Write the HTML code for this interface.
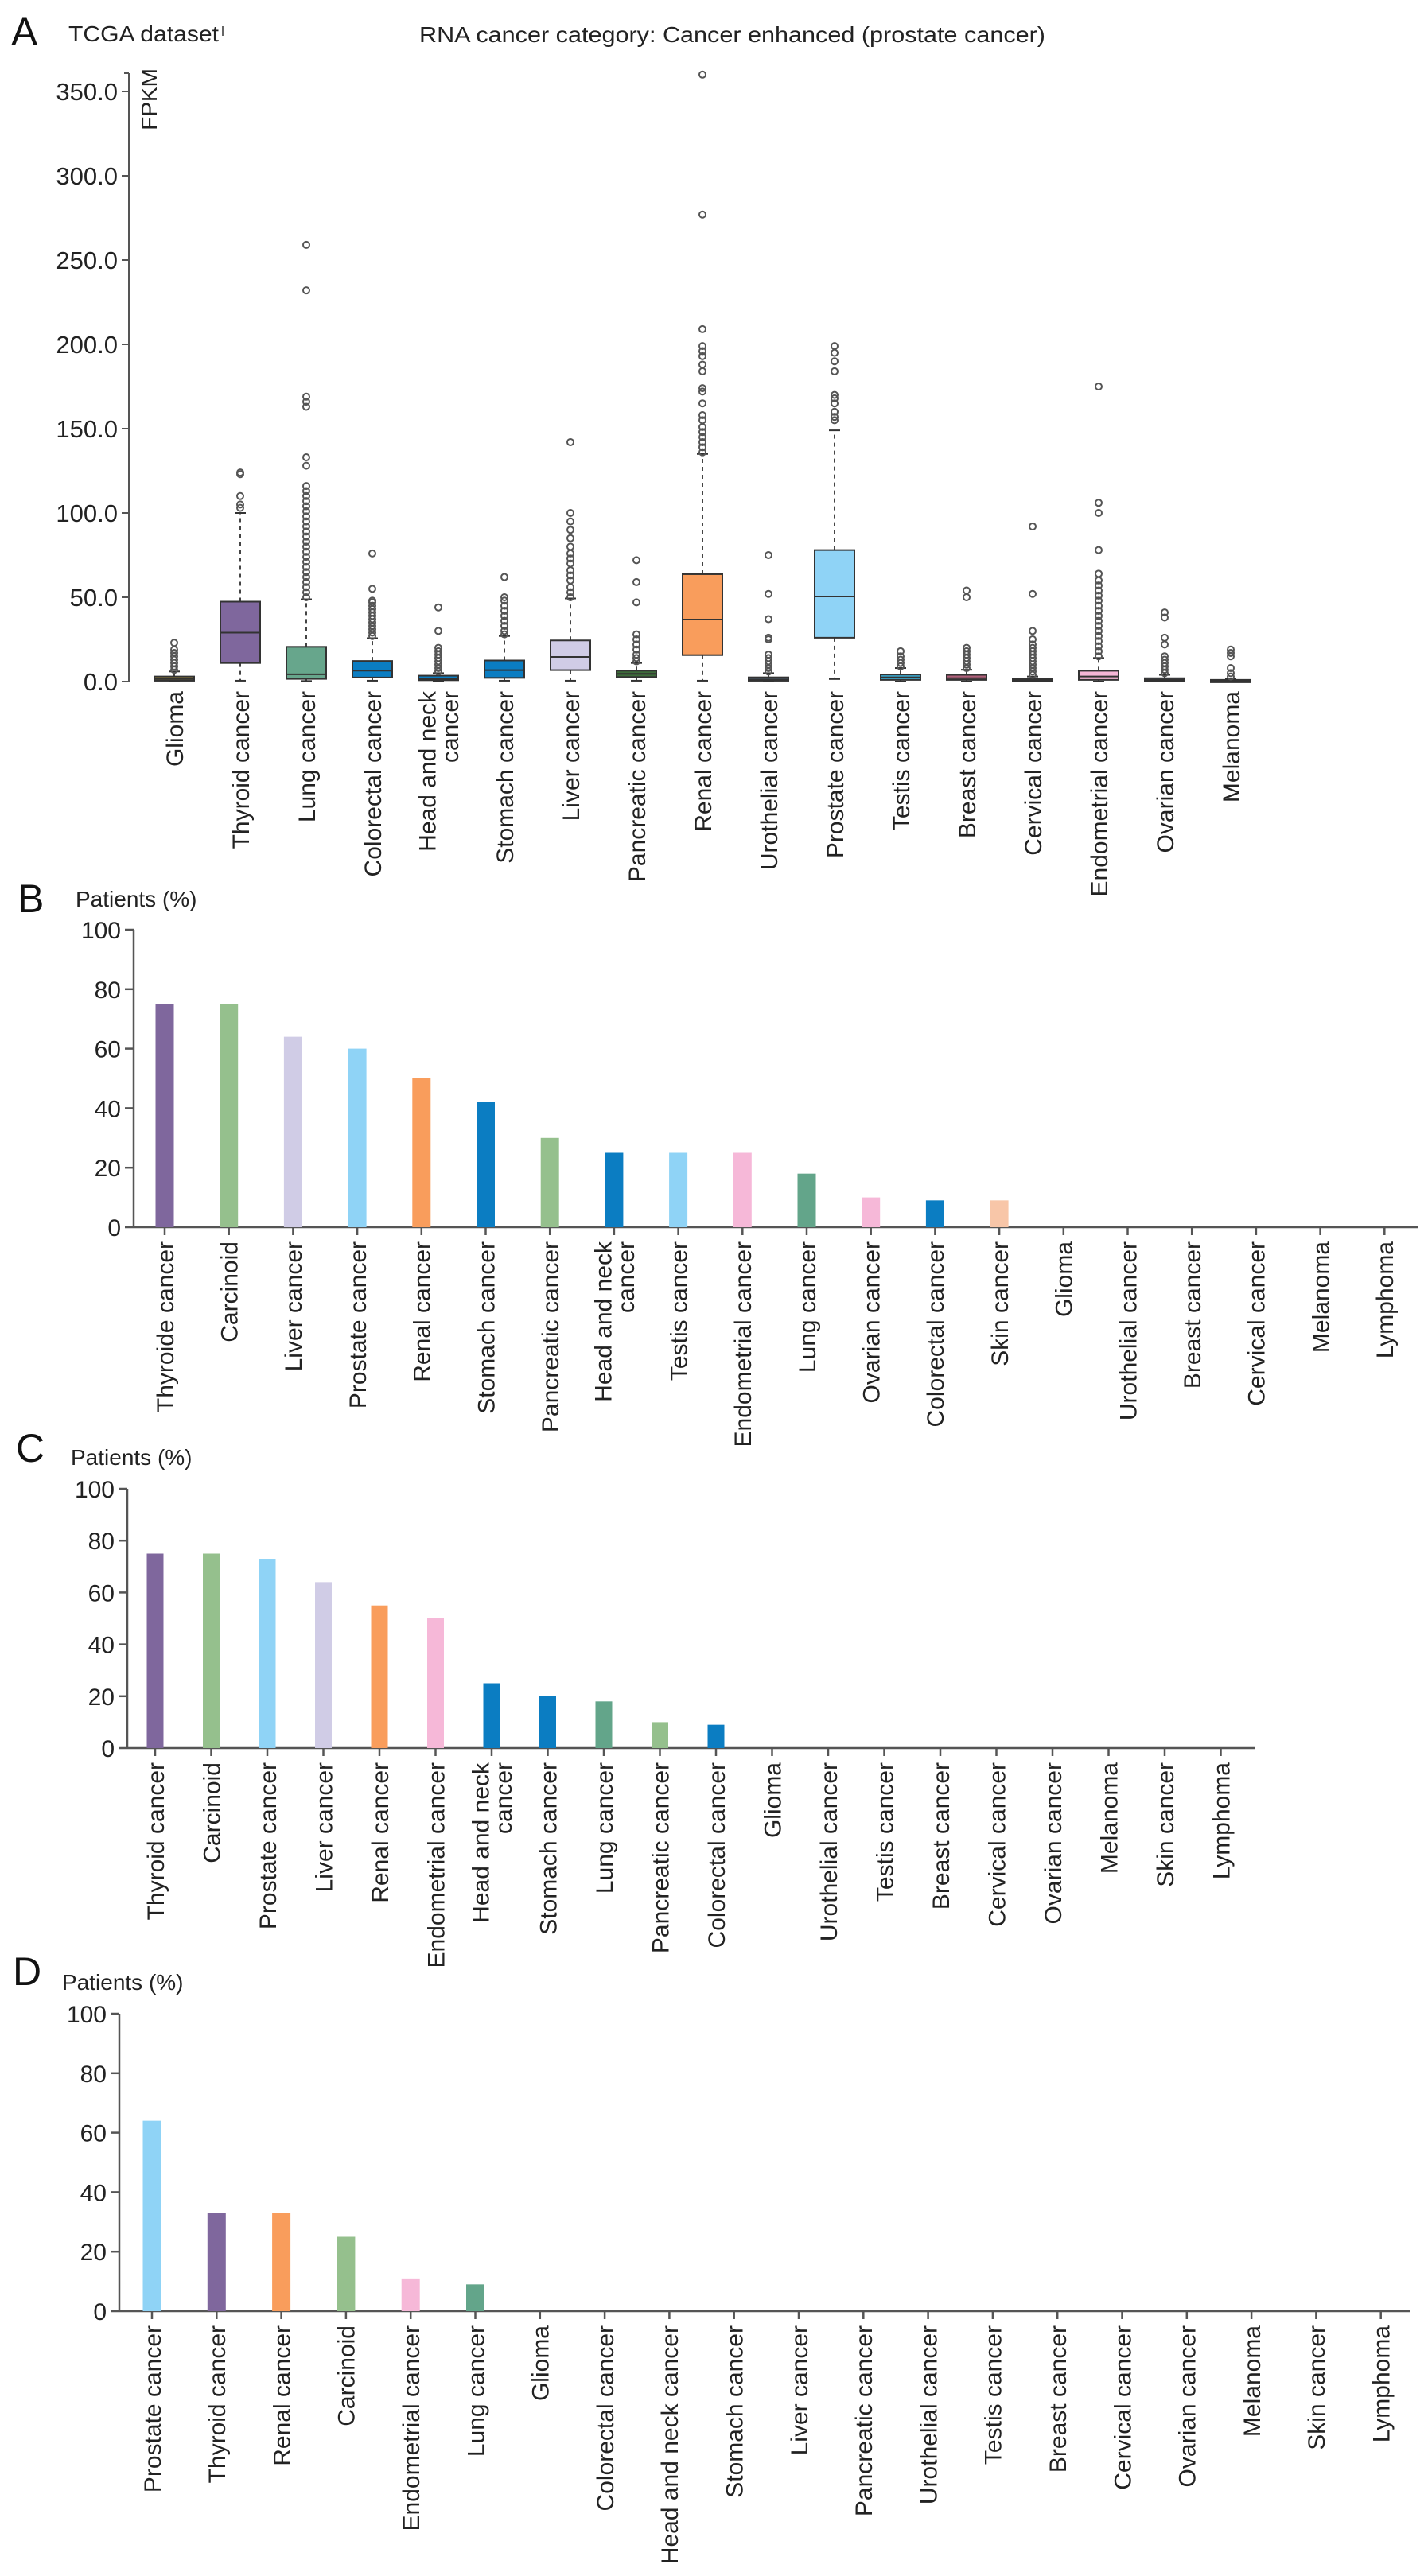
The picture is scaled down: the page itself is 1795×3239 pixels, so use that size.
<!DOCTYPE html>
<html><head><meta charset="utf-8"><style>
html,body{margin:0;padding:0;background:#fff}
svg{display:block;font-family:"Liberation Sans",Arial,sans-serif}
</style></head><body>
<svg id="fig" width="1795" height="3239" viewBox="0 0 1795 3239" xmlns="http://www.w3.org/2000/svg">
<g id="panelA"></g>
<g id="panelB"></g>
<g id="panelC"></g>
<g id="panelD"></g>
</svg>
<script>
// ---------- Panel A data ----------
const aCategories = ["Glioma","Thyroid cancer","Lung cancer","Colorectal cancer","Head and neck|cancer","Stomach cancer","Liver cancer","Pancreatic cancer","Renal cancer","Urothelial cancer","Prostate cancer","Testis cancer","Breast cancer","Cervical cancer","Endometrial cancer","Ovarian cancer","Melanoma"];
const aQ1 = [0.5,11,1.6,2.4,0.8,2.2,6.8,2.7,15.7,0.5,26,1,1,0.3,1,0.4,0.2];
const aMedian = [1.5,29,4.3,6.5,1.5,6.8,14.6,4.6,36.8,1.2,50.5,2.5,2,0.8,3,1,0.5];
const aQ3 = [3,47.4,20.6,12.2,3.5,12.5,24.4,6.5,63.7,2.5,78,4.2,4,1.5,6.4,2,1];
const aWhiskerLow = [0,0.5,0.3,0.5,0,0.5,0.5,0.5,0.5,0,1.5,0,0,0,0,0,0];
const aWhiskerHigh = [6,100,48.8,25.7,5,27,49.3,11,135,5,149,8,7,3,14,4,1.5];
const aOutliers = [
 [7,9,11,13,15,17,19,23],
 [103,105,110,123,124],
 [50,53,56,59,62,65,68,71,74,77,80,83,86,89,92,95,98,101,104,107,110,113,116,128,133,163,166,169,232,259],
 [27,29,31,33,35,37,39,41,43,45,47,48,55,76],
 [6,8,10,12,14,16,18,20,30,44],
 [28,30,33,36,39,42,45,48,50,62],
 [50,53,56,60,63,66,70,73,76,80,85,90,95,100,142],
 [12,14,16,19,22,25,28,47,59,72],
 [136,139,142,145,148,151,155,158,165,172,174,184,188,193,196,199,209,277,360],
 [6,8,10,12,14,16,25,26,37,52,75],
 [155,157,160,165,168,170,184,190,195,199],
 [9,11,13,15,18],
 [8,10,12,14,16,18,20,50,54],
 [4,6,8,10,12,14,16,18,20,22,25,30,52,92],
 [15,18,21,24,27,30,33,36,39,42,45,48,51,54,57,60,64,78,100,106,175],
 [5,7,9,11,13,15,22,26,38,41],
 [3,5,8,15,17,19]
];
const aTicks = [0,50,100,150,200,250,300,350];
const aTickLabels = ["0.0","50.0","100.0","150.0","200.0","250.0","300.0","350.0"];
const aColors = ["#b39b3c","#7f679d","#67a68c","#0b7dc2","#0b7dc2","#0b7dc2","#d0cce6","#3d6b3a","#f99d5c","#4a5a6a","#8fd3f6","#3aa3c8","#b0607a","#555b66","#f5b6d6","#4f5a66","#4b5560"];

// ---------- Panel B/C/D data ----------
const bCategories = ["Thyroide cancer","Carcinoid","Liver cancer","Prostate cancer","Renal cancer","Stomach cancer","Pancreatic cancer","Head and neck|cancer","Testis cancer","Endometrial cancer","Lung cancer","Ovarian cancer","Colorectal cancer","Skin cancer","Glioma","Urothelial cancer","Breast cancer","Cervical cancer","Melanoma","Lymphoma"];
const bValues = [75,75,64,60,50,42,30,25,25,25,18,10,9,9,0,0,0,0,0,0];
const cCategories = ["Thyroid cancer","Carcinoid","Prostate cancer","Liver cancer","Renal cancer","Endometrial cancer","Head and neck|cancer","Stomach cancer","Lung cancer","Pancreatic cancer","Colorectal cancer","Glioma","Urothelial cancer","Testis cancer","Breast cancer","Cervical cancer","Ovarian cancer","Melanoma","Skin cancer","Lymphoma"];
const cValues = [75,75,73,64,55,50,25,20,18,10,9,0,0,0,0,0,0,0,0,0];
const dCategories = ["Prostate cancer","Thyroid cancer","Renal cancer","Carcinoid","Endometrial cancer","Lung cancer","Glioma","Colorectal cancer","Head and neck cancer","Stomach cancer","Liver cancer","Pancreatic cancer","Urothelial cancer","Testis cancer","Breast cancer","Cervical cancer","Ovarian cancer","Melanoma","Skin cancer","Lymphoma"];
const dValues = [64,33,33,25,11,9,0,0,0,0,0,0,0,0,0,0,0,0,0,0];
const pctTicks = [0,20,40,60,80,100];

const colorMap = {"Thyroide cancer":"#7f679d","Thyroid cancer":"#7f679d","Carcinoid":"#95c08d","Liver cancer":"#d0cce6","Prostate cancer":"#8fd3f6","Renal cancer":"#f99d5c","Stomach cancer":"#0b7dc2","Pancreatic cancer":"#95c08d","Head and neck|cancer":"#0b7dc2","Head and neck cancer":"#0b7dc2","Testis cancer":"#8fd3f6","Endometrial cancer":"#f6b8d8","Lung cancer":"#63a58a","Ovarian cancer":"#f6b8d8","Colorectal cancer":"#0b7dc2","Skin cancer":"#f8c6a8"};

const NS="http://www.w3.org/2000/svg";
function mk(parent,tag,attrs,text){
  const e=document.createElementNS(NS,tag);
  for(const k in attrs) e.setAttribute(k,attrs[k]);
  if(text!==undefined) e.textContent=text;
  parent.appendChild(e); return e;
}
const AX="#555";

function rotLabel(g,label,cx,top,fs){
  const lines=label.split("|");
  const lh=fs*0.95;
  lines.forEach((ln,i)=>{
    const off=(i-(lines.length-1)/2)*lh;
    const t=mk(g,"text",{x:0,y:0,"font-size":fs,fill:"#222","text-anchor":"end",transform:`translate(${cx+fs*0.36+off},${top}) rotate(-90)`},ln);
    
    
  });
}

// ---------- Panel A ----------
(function(){
  const g=document.getElementById("panelA");
  const x0=219, dx=83, yZero=857, pxPer=106/50, axisX=162, bw=50;
  const yA=v=>yZero-v*pxPer;
  const xA=i=>x0+i*dx;
  let t;
  t=mk(g,"text",{x:14,y:57,"font-size":50,fill:"#111"},"A");
  
  
  t=mk(g,"text",{x:86,y:52,"font-size":28,fill:"#222",textLength:189,lengthAdjust:"spacingAndGlyphs"},"TCGA dataset");
  
  
  mk(g,"line",{x1:280,y1:33,x2:280,y2:45,stroke:"#333","stroke-width":1.5});
  t=mk(g,"text",{x:527,y:53,"font-size":28,fill:"#222",textLength:787,lengthAdjust:"spacingAndGlyphs"},"RNA cancer category: Cancer enhanced (prostate cancer)");
  
  
  t=mk(g,"text",{x:0,y:0,"font-size":28,fill:"#222","text-anchor":"end",transform:"translate(197,86) rotate(-90)"},"FPKM");
  
  
  const ax=mk(g,"line",{x1:axisX,y1:92,x2:axisX,y2:yZero,stroke:AX,"stroke-width":2});
  
  
  mk(g,"line",{x1:axisX,y1:92,x2:axisX-6,y2:92,stroke:AX,"stroke-width":2});
  aTicks.forEach((v,i)=>{
    mk(g,"line",{x1:axisX-9,y1:yA(v),x2:axisX,y2:yA(v),stroke:AX,"stroke-width":2});
    const tl=mk(g,"text",{x:axisX-14,y:yA(v)+11,"font-size":31,fill:"#222","text-anchor":"end"},aTickLabels[i]);
    
    
  });
  aCategories.forEach((c,i)=>{
    const cx=xA(i);
    const bg=mk(g,"g",{});
    
    
    mk(bg,"line",{x1:cx,y1:yA(aQ3[i]),x2:cx,y2:yA(aWhiskerHigh[i]),stroke:"#444","stroke-width":2,"stroke-dasharray":"5,5"});
    mk(bg,"line",{x1:cx,y1:yA(aQ1[i]),x2:cx,y2:yA(aWhiskerLow[i]),stroke:"#444","stroke-width":2,"stroke-dasharray":"5,5"});
    mk(bg,"line",{x1:cx-7,y1:yA(aWhiskerHigh[i]),x2:cx+7,y2:yA(aWhiskerHigh[i]),stroke:"#333","stroke-width":2});
    mk(bg,"line",{x1:cx-7,y1:yA(aWhiskerLow[i]),x2:cx+7,y2:yA(aWhiskerLow[i]),stroke:"#333","stroke-width":2});
    const h=Math.max(yA(aQ1[i])-yA(aQ3[i]),3);
    mk(bg,"rect",{x:cx-bw/2,y:yA(aQ3[i]),width:bw,height:h,fill:aColors[i],stroke:"#333","stroke-width":2});
    mk(bg,"line",{x1:cx-bw/2,y1:yA(aMedian[i]),x2:cx+bw/2,y2:yA(aMedian[i]),stroke:"#333","stroke-width":2});
    aOutliers[i].forEach(v=>{
      const o=mk(bg,"circle",{cx:cx,cy:yA(v),r:4,fill:"none",stroke:"#555","stroke-width":2});
      
      
    });
    rotLabel(g,c,cx,869,30);
  });
})();

// ---------- Bar panels ----------
function barPanel(id,letter,cats,vals,o){
  const g=document.getElementById(id);
  const yB=v=>o.y0-(v/100)*(o.y0-o.y100);
  const xB=i=>o.x0+i*o.dx;
  let t=mk(g,"text",{x:o.lx,y:o.ly,"font-size":50,fill:"#111"},letter);
  
  
  t=mk(g,"text",{x:o.px,y:o.py,"font-size":28,fill:"#222"},"Patients (%)");
  
  
  const ya=mk(g,"line",{x1:o.ax,y1:o.y100,x2:o.ax,y2:o.y0,stroke:AX,"stroke-width":2.5});
  
  
  const xa=mk(g,"line",{x1:o.ax,y1:o.y0,x2:o.xEnd,y2:o.y0,stroke:AX,"stroke-width":2.5});
  
  
  pctTicks.forEach(v=>{
    mk(g,"line",{x1:o.ax-11,y1:yB(v),x2:o.ax,y2:yB(v),stroke:AX,"stroke-width":2.5});
    const tl=mk(g,"text",{x:o.ax-16,y:yB(v)+11,"font-size":30,fill:"#222","text-anchor":"end"},String(v));
    
    
  });
  cats.forEach((c,i)=>{
    const cx=xB(i);
    mk(g,"line",{x1:cx,y1:o.y0,x2:cx,y2:o.y0+10,stroke:AX,"stroke-width":2.5});
    if(vals[i]>0){
      const r=mk(g,"rect",{x:cx-o.bw/2,y:yB(vals[i]),width:o.bw,height:o.y0-yB(vals[i]),fill:colorMap[c]||"#999"});
      
      
    }
    rotLabel(g,c,cx,o.y0+18,30);
  });
}
barPanel("panelB","B",bCategories,bValues,{lx:22,ly:1147,px:95,py:1140,ax:168,y0:1543,y100:1169,x0:207,dx:80.7,bw:23,xEnd:1782});
barPanel("panelC","C",cCategories,cValues,{lx:20,ly:1838,px:89,py:1842,ax:160,y0:2198,y100:1872,x0:195,dx:70.5,bw:21,xEnd:1577});
barPanel("panelD","D",dCategories,dValues,{lx:16,ly:2496,px:78,py:2502,ax:150,y0:2906,y100:2532,x0:191,dx:81.3,bw:23,xEnd:1772});
</script>
</body></html>
